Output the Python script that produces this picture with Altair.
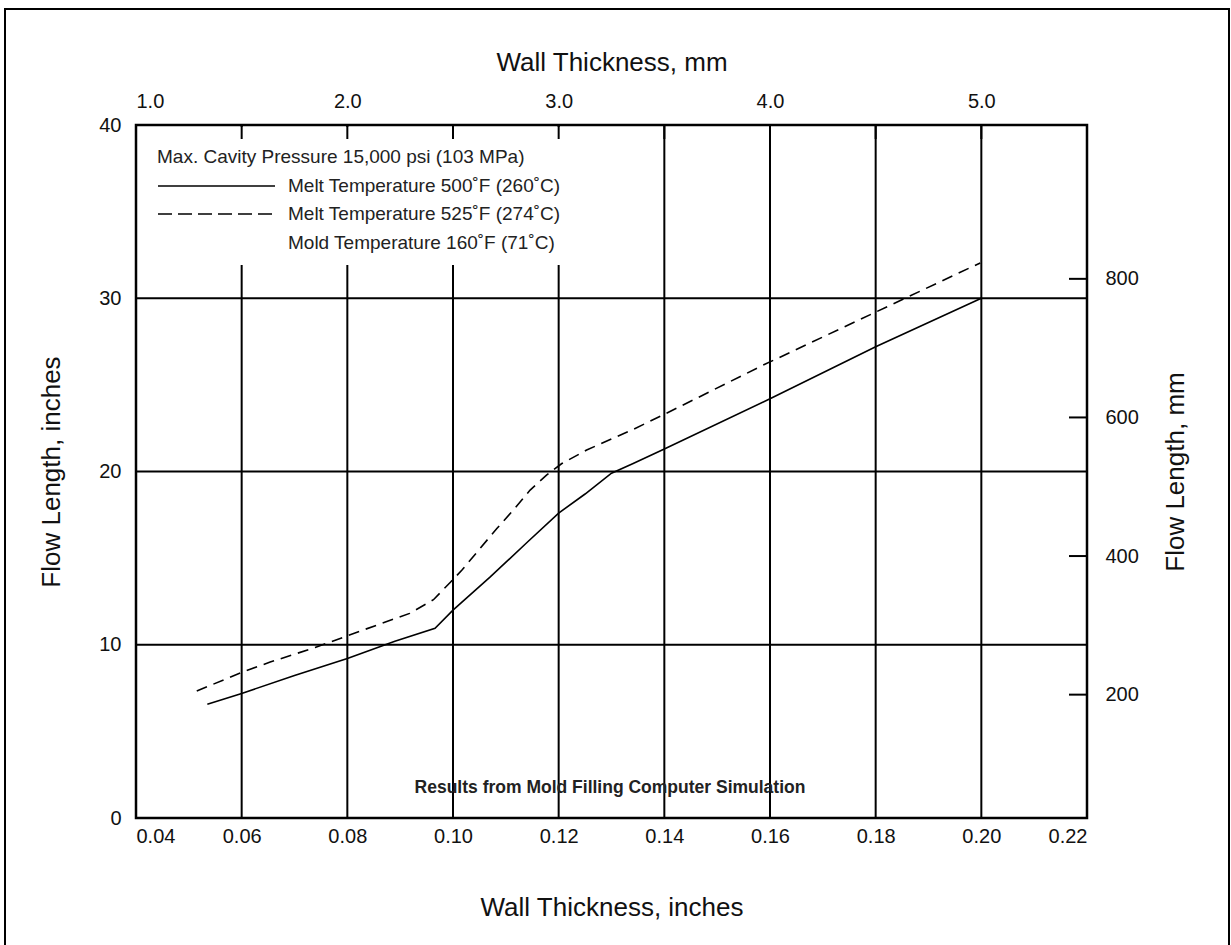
import altair as alt
import pandas as pd

# ---- data ----
solid_x = [0.0535, 0.060, 0.070, 0.080, 0.089, 0.0966, 0.100, 0.107, 0.114, 0.120, 0.125, 0.130, 0.134, 0.140, 0.160, 0.180, 0.200]
solid_y = [6.56, 7.19, 8.22, 9.21, 10.2, 10.95, 12.0, 13.9, 15.9, 17.6, 18.7, 19.9, 20.45, 21.3, 24.2, 27.2, 30.0]

dash_x = [0.0515, 0.0603, 0.0654, 0.0739, 0.083, 0.0918, 0.0963, 0.0996, 0.1017, 0.1051, 0.1083, 0.1114, 0.1146, 0.1177, 0.1206, 0.1253, 0.1341, 0.140, 0.1587, 0.180, 0.1998]
dash_y = [7.33, 8.44, 9.0, 9.84, 10.85, 11.81, 12.6, 13.64, 14.31, 15.55, 16.71, 17.77, 18.93, 19.79, 20.46, 21.24, 22.43, 23.3, 26.14, 29.2, 32.04]

x_ticks_in = [0.04, 0.06, 0.08, 0.10, 0.12, 0.14, 0.16, 0.18, 0.20, 0.22]
y_ticks_in = [0, 10, 20, 30, 40]
x_grid = [0.06, 0.08, 0.10, 0.12, 0.14, 0.16, 0.18, 0.20]
y_grid = [10, 20, 30]
top_ticks_mm = [1.5, 2.0, 2.5, 3.0, 3.5, 4.0, 4.5, 5.0]
top_labels_mm = [1.0, 2.0, 3.0, 4.0, 5.0]
right_ticks_mm = [200, 400, 600, 800]

legend_header = "Max. Cavity Pressure 15,000 psi (103 MPa)"
legend_solid = "Melt Temperature 500˚F (260˚C)"
legend_dash = "Melt Temperature 525˚F (274˚C)"
legend_mold = "Mold Temperature 160˚F (71˚C)"
note = "Results from Mold Filling Computer Simulation"

FONT = "Liberation Sans"
W, H = 951, 693
TICK_FS = 20
TITLE_FS = 26

xs = alt.Scale(domain=[0.04, 0.22], nice=False, zero=False)
ys = alt.Scale(domain=[0, 40], nice=False, zero=False)
xs_mm = alt.Scale(domain=[1.0, 5.5], nice=False, zero=False)
ys_mm = alt.Scale(domain=[22, 1022], nice=False, zero=False)

one = pd.DataFrame({"a": [0]})

df_solid = pd.DataFrame({"x": solid_x, "y": solid_y})
df_dash = pd.DataFrame({"x": dash_x, "y": dash_y})

x_axis = alt.Axis(values=x_ticks_in, format=".2f", ticks=False, domain=False, grid=False,
                  labelFontSize=TICK_FS, labelPadding=8, labelColor="#111",
                  title="Wall Thickness, inches", titleFontSize=TITLE_FS, titleFontWeight="normal",
                  titlePadding=48, titleColor="#111", orient="bottom")
y_axis = alt.Axis(values=y_ticks_in, ticks=False, domain=False, grid=False,
                  labelFontSize=TICK_FS, labelPadding=15, labelColor="#111",
                  title="Flow Length, inches", titleFontSize=TITLE_FS, titleFontWeight="normal",
                  titlePadding=34, titleColor="#111", orient="left")

vgrid = alt.Chart(pd.DataFrame({"x": x_grid})).mark_rule(color="black", strokeWidth=2).encode(
    x=alt.X("x:Q", scale=xs, axis=x_axis))
hgrid = alt.Chart(pd.DataFrame({"y": y_grid})).mark_rule(color="black", strokeWidth=2).encode(
    y=alt.Y("y:Q", scale=ys, axis=y_axis))

mask = alt.Chart(one).mark_rect(color="white").encode(
    x=alt.value(2), x2=alt.value(474), y=alt.value(2), y2=alt.value(140))

line_solid = alt.Chart(df_solid).mark_line(color="black", strokeWidth=1.6).encode(
    x=alt.X("x:Q", scale=xs), y=alt.Y("y:Q", scale=ys))
line_dash = alt.Chart(df_dash).mark_line(color="black", strokeWidth=1.6, strokeDash=[11, 7]).encode(
    x=alt.X("x:Q", scale=xs), y=alt.Y("y:Q", scale=ys))

def txt(s, px, py, size, align="left", weight="normal"):
    return alt.Chart(one).mark_text(text=s, font=FONT, fontSize=size, align=align,
                                    baseline="middle", color="#222", fontWeight=weight).encode(
        x=alt.value(px), y=alt.value(py))

leg1 = txt(legend_header, 21, 32, 19)
leg2 = txt(legend_solid, 152, 61, 19)
leg3 = txt(legend_dash, 152, 89, 19)
leg4 = txt(legend_mold, 152, 118, 19)
samp_solid = alt.Chart(one).mark_rule(color="black", strokeWidth=1.6).encode(
    x=alt.value(22), x2=alt.value(139), y=alt.value(61))
samp_dash = alt.Chart(one).mark_rule(color="black", strokeWidth=1.6, strokeDash=[14, 6]).encode(
    x=alt.value(22), x2=alt.value(139), y=alt.value(89))
note_t = txt(note, 474, 663, 17.5, align="center", weight="bold")

border = alt.Chart(one).mark_rect(fill=None, stroke="black", strokeWidth=2.5).encode(
    x=alt.value(0), x2=alt.value(W), y=alt.value(0), y2=alt.value(H))
frame = alt.Chart(one).mark_rect(fill=None, stroke="black", strokeWidth=2).encode(
    x=alt.value(-131), x2=alt.value(1093), y=alt.value(-116), y2=alt.value(840))

main = alt.layer(vgrid, hgrid, mask, line_solid, line_dash,
                 samp_solid, samp_dash, leg1, leg2, leg3, leg4, note_t, border, frame)

top_axis = alt.Axis(values=top_labels_mm, format=".1f", ticks=False, domain=False, grid=False,
                    labelFontSize=TICK_FS, labelPadding=14, labelColor="#111", labelFlush=True,
                    title="Wall Thickness, mm", titleFontSize=TITLE_FS, titleFontWeight="normal",
                    titlePadding=16, titleColor="#111", orient="top")
top_layer = alt.Chart(pd.DataFrame({"mm": top_ticks_mm})).mark_rule(color="black", strokeWidth=2).encode(
    x=alt.X("mm:Q", scale=xs_mm, axis=top_axis), y=alt.value(0), y2=alt.value(14))

right_axis = alt.Axis(values=right_ticks_mm, ticks=False, domain=False, grid=False,
                      labelFontSize=TICK_FS, labelPadding=18, labelColor="#111",
                      title="Flow Length, mm", titleFontSize=TITLE_FS, titleFontWeight="normal",
                      titlePadding=24, titleColor="#111", titleAngle=270, titleBaseline="top",
                      orient="right")
right_layer = alt.Chart(pd.DataFrame({"mm": right_ticks_mm})).mark_rule(color="black", strokeWidth=2).encode(
    y=alt.Y("mm:Q", scale=ys_mm, axis=right_axis), x=alt.value(933), x2=alt.value(951))

chart = alt.layer(main, top_layer, right_layer).resolve_scale(
    x="independent", y="independent"
).properties(
    width=W, height=H,
    autosize=alt.AutoSizeParams(type="none"),
    padding={"left": 136, "top": 125, "right": 144, "bottom": 127},
).configure_view(
    stroke="black", strokeWidth=2
).configure_axis(
    labelFont=FONT, titleFont=FONT
).configure_text(
    font=FONT
).configure(background="white")

chart.save("out.html", embed_options={"renderer": "svg", "actions": False})
